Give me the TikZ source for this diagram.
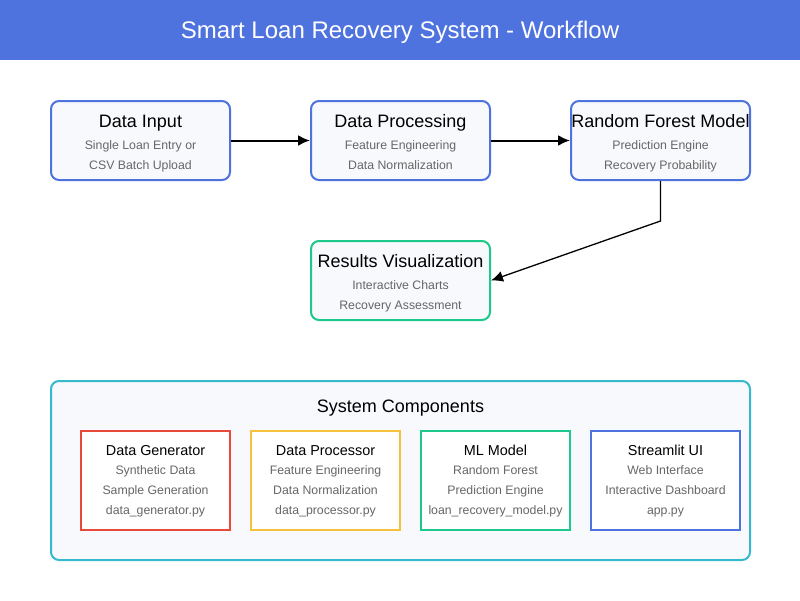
\documentclass[tikz,border=0pt]{standalone}
\usepackage{fontspec}
\setmainfont{Liberation Sans}
\usepackage{xcolor}
\usepackage{tikz}
\usetikzlibrary{arrows.meta}
\definecolor{primary}{HTML}{4e73df}
\definecolor{success}{HTML}{1cc88a}
\definecolor{info}{HTML}{36b9cc}
\definecolor{warning}{HTML}{f6c23e}
\definecolor{danger}{HTML}{e74a3b}
\definecolor{panel}{HTML}{f7f9fc}
\definecolor{subtext}{HTML}{666666}

\begin{document}
\begin{tikzpicture}[
        x=1pt, y=-1pt,
        stage/.style={
            rectangle,
            draw=primary,
            fill=panel,
            line width=2pt,
            rounded corners=8pt,
            minimum width=179pt,
            minimum height=79pt
        },
        part/.style={
            rectangle,
            draw=#1,
            fill=white,
            line width=1.1pt,
            minimum width=149pt,
            minimum height=99pt
        },
        heading/.style={
            inner sep=0pt,
            anchor=base,
            font=\fontsize{18}{20}\selectfont
        },
        partheading/.style={
            inner sep=0pt,
            anchor=base,
            font=\fontsize{14.4}{16}\selectfont
        },
        detail/.style={
            inner sep=0pt,
            anchor=base,
            text=subtext,
            font=\fontsize{12.3}{14}\selectfont
        },
        arrow/.style={
            -{Latex[length=12pt,width=11pt]},
            line width=2pt,
            color=black
        }
    ]
        \useasboundingbox (0,0) rectangle (800,600);
        \fill[primary] (0,0) rectangle (800,60);
        \node[inner sep=0pt, anchor=base, text=white, font=\fontsize{24}{26}\selectfont] (title) at (400,38.5) {Smart Loan Recovery System - Workflow};

        % workflow
        \node[stage] (input) at (140.5,140.5) {};
        \node[heading] (inputhead) at (140.5,127.5) {Data Input};
        \node[detail] (inputa) at (140.5,149.5) {Single Loan Entry or};
        \node[detail] (inputb) at (140.5,169.5) {CSV Batch Upload};

        \node[stage] (proc) at (400.5,140.5) {};
        \node[heading] (prochead) at (400.5,127.5) {Data Processing};
        \node[detail] (proca) at (400.5,149.5) {Feature Engineering};
        \node[detail] (procb) at (400.5,169.5) {Data Normalization};

        \node[stage] (model) at (660.5,140.5) {};
        \node[heading] (modelhead) at (660.5,127.5) {Random Forest Model};
        \node[detail] (modela) at (660.5,149.5) {Prediction Engine};
        \node[detail] (modelb) at (660.5,169.5) {Recovery Probability};

        \node[stage, draw=success] (results) at (400.5,280.5) {};
        \node[heading] (resultshead) at (400.5,267.5) {Results Visualization};
        \node[detail] (resultsa) at (400.5,289.5) {Interactive Charts};
        \node[detail] (resultsb) at (400.5,309.5) {Recovery Assessment};

        \draw[arrow] (input) -- (proc);
        \draw[arrow] (proc) -- (model);
        \draw[arrow, line width=1.3pt] (model.south) -- ++(0,40) -- (results.east);

        % components
        \node[stage, draw=info, minimum width=699pt, minimum height=179pt] (system) at (400.5,470.5) {};
        \node[heading] (systemhead) at (400.5,412.5) {System Components};

        \node[part=danger] (gen) at (155.5,480.5) {};
        \node[partheading] (genhead) at (155.5,455.2) {Data Generator};
        \node[detail] (gena) at (155.5,474.5) {Synthetic Data};
        \node[detail] (genb) at (155.5,494.5) {Sample Generation};
        \node[detail] (genc) at (155.5,514.5) {data\_generator.py};

        \node[part=warning] (proctool) at (325.5,480.5) {};
        \node[partheading] (proctoolhead) at (325.5,455.2) {Data Processor};
        \node[detail] (proctoola) at (325.5,474.5) {Feature Engineering};
        \node[detail] (proctoolb) at (325.5,494.5) {Data Normalization};
        \node[detail] (proctoolc) at (325.5,514.5) {data\_processor.py};

        \node[part=success] (ml) at (495.5,480.5) {};
        \node[partheading] (mlhead) at (495.5,455.2) {ML Model};
        \node[detail] (mla) at (495.5,474.5) {Random Forest};
        \node[detail] (mlb) at (495.5,494.5) {Prediction Engine};
        \node[detail] (mlc) at (495.5,514.5) {loan\_recovery\_model.py};

        \node[part=primary] (ui) at (665.5,480.5) {};
        \node[partheading] (uihead) at (665.5,455.2) {Streamlit UI};
        \node[detail] (uia) at (665.5,474.5) {Web Interface};
        \node[detail] (uib) at (665.5,494.5) {Interactive Dashboard};
        \node[detail] (uic) at (665.5,514.5) {app.py};
    \end{tikzpicture}
\end{document}
